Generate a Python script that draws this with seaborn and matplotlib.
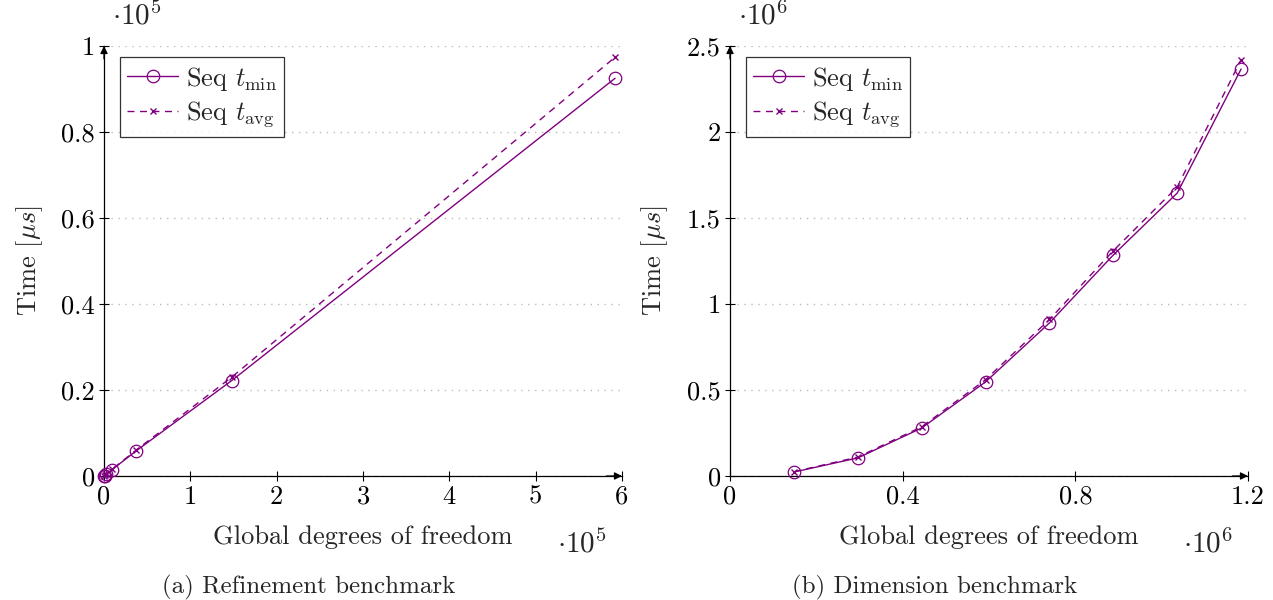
import numpy as np
import pandas as pd
import matplotlib
matplotlib.use("Agg")
import matplotlib.pyplot as plt
import seaborn as sns

# ---- data ----
ref_dof = [145, 580, 2310, 9250, 37000, 148000, 592000]
ref_tmin = [30, 110, 420, 1450, 5800, 22200, 92500]
ref_tavg = [35, 120, 450, 1550, 6000, 23000, 97400]

dim_dof = [148000, 296000, 444000, 592000, 740000, 888000, 1036000, 1184000]
dim_tmin = [23000, 105000, 279000, 547000, 890000, 1285000, 1645000, 2366000]
dim_tavg = [25000, 110000, 286000, 560000, 910000, 1310000, 1680000, 2420000]

left_xticks = [0, 1, 2, 3, 4, 5, 6]
left_xlabels = ["0", "1", "2", "3", "4", "5", "6"]
left_yticks = [0, 0.2, 0.4, 0.6, 0.8, 1]
left_ylabels = ["0", "0.2", "0.4", "0.6", "0.8", "1"]
right_xticks = [0, 0.4, 0.8, 1.2]
right_xlabels = ["0", "0.4", "0.8", "1.2"]
right_yticks = [0, 0.5, 1, 1.5, 2, 2.5]
right_ylabels = ["0", "0.5", "1", "1.5", "2", "2.5"]

sns.set_theme(style="white")
plt.rcParams["font.family"] = ["cmr10", "DejaVu Serif"]
plt.rcParams["mathtext.fontset"] = "cm"
plt.rcParams["axes.unicode_minus"] = False
plt.rcParams["axes.formatter.use_mathtext"] = True

COLOR = "#800080"
FS = 19

fig = plt.figure(figsize=(12.73, 6.0), dpi=100)
axL = fig.add_axes([104 / 1273, 124 / 600, 518 / 1273, 430 / 600])
axR = fig.add_axes([730 / 1273, 124 / 600, 518 / 1273, 430 / 600])


def draw(ax, dof, tmin, tavg, xs, ys, xlim, ylim, xt, xl, yt, yl, xexp, yexp):
    df = pd.DataFrame({"x": np.array(dof) / xs, "tmin": np.array(tmin) / ys,
                       "tavg": np.array(tavg) / ys})
    sns.lineplot(data=df, x="x", y="tmin", ax=ax, color=COLOR, lw=1.0,
                 marker="o", markersize=9, mfc="none", mec=COLOR, mew=0.9,
                 label=r"Seq $t_{\mathrm{min}}$", clip_on=False, zorder=3)
    sns.lineplot(data=df, x="x", y="tavg", ax=ax, color=COLOR, lw=1.0,
                 marker="x", markersize=5, mec=COLOR, mew=1.0,
                 linestyle=(0, (5, 4)),
                 label=r"Seq $t_{\mathrm{avg}}$", clip_on=False, zorder=3)
    ax.set_xlim(*xlim)
    ax.set_ylim(*ylim)
    ax.set_xticks(xt)
    ax.set_xticklabels(xl)
    ax.set_yticks(yt)
    ax.set_yticklabels(yl)
    ax.tick_params(axis="both", direction="inout", length=7, width=0.8,
                   labelsize=FS, colors="black", pad=3, bottom=True, left=True)
    for s in ["top", "right"]:
        ax.spines[s].set_visible(False)
    for s in ["left", "bottom"]:
        ax.spines[s].set_color("black")
        ax.spines[s].set_linewidth(0.9)
    ax.yaxis.grid(True, linestyle=(0, (1, 4)), color="#bbbbbb", lw=1.0)
    ax.xaxis.grid(False)
    ax.set_axisbelow(True)
    # arrow heads at the ends of the axis lines
    arrow = dict(arrowstyle="-|>", color="black", lw=0.9, mutation_scale=11,
                 shrinkA=0, shrinkB=0)
    ax.annotate("", xy=(1.0, 0.0), xytext=(0.97, 0.0), xycoords="axes fraction",
                textcoords="axes fraction", arrowprops=arrow, annotation_clip=False)
    ax.annotate("", xy=(0.0, 1.0), xytext=(0.0, 0.97), xycoords="axes fraction",
                textcoords="axes fraction", arrowprops=arrow, annotation_clip=False)
    ax.set_xlabel("Global degrees of freedom", fontsize=FS, labelpad=12)
    ax.set_ylabel(r"Time [$\mu s$]", fontsize=FS, labelpad=12)
    ax.text(0.015, 1.035, r"$\cdot 10^{%d}$" % yexp, transform=ax.transAxes,
            fontsize=FS + 2, ha="left", va="bottom")
    ax.text(0.97, -0.125, r"$\cdot 10^{%d}$" % xexp, transform=ax.transAxes,
            fontsize=FS + 2, ha="right", va="top")
    leg = ax.legend(loc="upper left", bbox_to_anchor=(0.03, 0.975),
                    fontsize=FS, frameon=True, fancybox=False,
                    edgecolor="black", handlelength=1.9, borderpad=0.3,
                    labelspacing=0.25, handletextpad=0.3, borderaxespad=0.0)
    leg.get_frame().set_linewidth(0.9)


draw(axL, ref_dof, ref_tmin, ref_tavg, 1e5, 1e5, (0, 6), (0, 1),
     left_xticks, left_xlabels, left_yticks, left_ylabels, 5, 5)
draw(axR, dim_dof, dim_tmin, dim_tavg, 1e6, 1e6, (0, 1.2), (0, 2.5),
     right_xticks, right_xlabels, right_yticks, right_ylabels, 6, 6)

fig.text(309 / 1273, 1 - 587 / 600, "(a) Refinement benchmark", fontsize=18,
         ha="center", va="center")
fig.text(935 / 1273, 1 - 587 / 600, "(b) Dimension benchmark", fontsize=18,
         ha="center", va="center")

fig.savefig("out.png", dpi=100)
